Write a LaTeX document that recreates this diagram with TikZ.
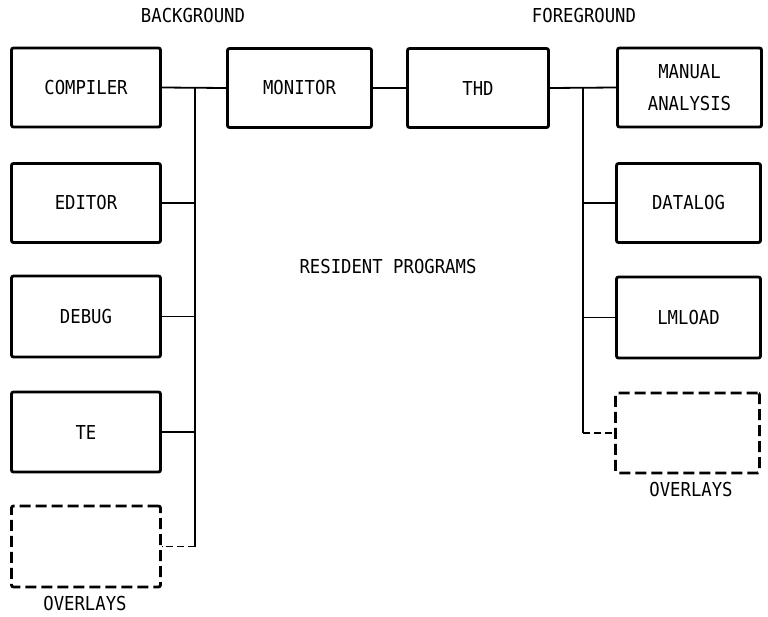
\documentclass[tikz,border=0pt]{standalone}
\usepackage{fontspec}
\newfontfamily\mono[FakeStretch=0.9]{DejaVu Sans Mono}
\begin{document}
\begin{tikzpicture}[x=1pt,y=-1pt,
  txt/.style={font=\mono\fontsize{19.2}{32}\selectfont, inner sep=0pt, align=center},
  prog/.style={txt, draw, line width=2.8pt, rounded corners=2pt,
    minimum width=149pt, minimum height=79pt},
  overlay/.style={prog, dash pattern=on 11pt off 5pt},
  wire/.style={line width=1.8pt},
  dwire/.style={wire, dash pattern=on 7pt off 4pt}]
\useasboundingbox (0,0) rectangle (768,616);

% section headings
\node[txt] (bg) at (193,16) {BACKGROUND};
\node[txt] (fg) at (584,16) {FOREGROUND};
\node[txt] (res) at (388,267) {RESIDENT PROGRAMS};

% top row
\node[prog] (comp) at (86,87.5) {COMPILER};
\node[prog, minimum width=144pt] (mon) at (299.5,88) {MONITOR};
\node[prog, minimum width=141pt] (thd) at (478,88) {THD};
\node[prog, minimum width=144pt] (man) at (689.5,87.5) {MANUAL\\ANALYSIS};

% background programs
\node[prog] (edit) at (86,203) {EDITOR};
\node[prog, minimum height=81pt] (dbg) at (86,316.5) {DEBUG};
\node[prog, minimum height=80pt] (te) at (86,432) {TE};
\node[overlay, minimum height=81pt] (ovl) at (86,546.5) {};
\node[txt] (ovllab) at (85,604) {OVERLAYS};

% foreground programs
\node[prog, minimum width=144pt] (dlog) at (688.5,203) {DATALOG};
\node[prog, minimum width=144pt, minimum height=81pt] (lml) at (688.5,317.5) {LMLOAD};
\node[overlay, minimum width=144pt, minimum height=80pt] (ovr) at (687.5,433) {};
\node[txt] (ovrlab) at (691,490) {OVERLAYS};

% top-row links
\draw[wire] (comp.east) -- (mon.west);
\draw[wire] (mon.east) -- (thd.west);
\draw[wire] (thd.east) -- (man.west);

% background bus
\coordinate (lt) at (195,87.5);
\coordinate (lb) at (lt |- ovl.east);
\draw[wire] (lt) -- (lb);
\draw[wire] (edit.east) -- (edit.east -| lt);
\draw[wire] (dbg.east) -- (dbg.east -| lt);
\draw[wire] (te.east) -- (te.east -| lt);
\draw[dwire] (lb) -- (ovl.east);

% foreground bus
\coordinate (rt) at (583,87.5);
\coordinate (rb) at (rt |- ovr.west);
\draw[wire] (rt) -- (rb);
\draw[wire] (dlog.west) -- (dlog.west -| rt);
\draw[wire] (lml.west) -- (lml.west -| rt);
\draw[dwire] (rb) -- (ovr.west);
\end{tikzpicture}
\end{document}
